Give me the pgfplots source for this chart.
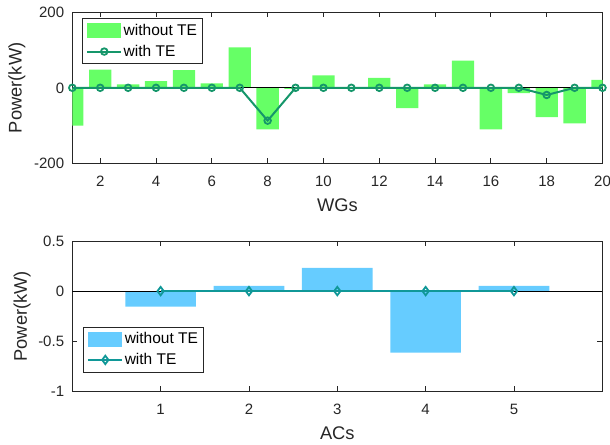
\documentclass[border=0pt]{standalone}
\usepackage{pgfplots}
\pgfplotsset{compat=1.18}
\usepackage{fontspec}
\setmainfont{Liberation Sans}
\definecolor{gbar}{HTML}{66FF66}
\definecolor{gline}{HTML}{15966A}
\definecolor{bbar}{HTML}{66CCFF}
\definecolor{bline}{HTML}{109898}
\definecolor{axgray}{HTML}{262626}
\pgfplotsset{
  mystyle/.style={
    scale only axis,
    axis line style={color=axgray, line width=0.9bp},
    tick style={color=axgray, line width=0.9bp},
    major tick length=5bp,
    tick align=inside,
    /pgf/number format/assume math mode=true,
    ticklabel style={font=\fontsize{15bp}{18bp}\selectfont, text=axgray, inner sep=0pt},
    xticklabel style={anchor=base, yshift=-23bp},
    yticklabel style={anchor=base east, xshift=-8bp, yshift=-5.4bp},
    label style={font=\fontsize{18.3bp}{21bp}\selectfont, text=axgray},
    xlabel style={at={(axis description cs:0.5,0)}, anchor=base, yshift=-48.5bp},
    legend cell align=left,
    legend style={font=\fontsize{15.5bp}{18bp}\selectfont, draw=axgray, line width=0.8bp, fill=white,
      inner xsep=4bp, inner ysep=4bp, row sep=4.5bp,
      nodes={inner sep=1.5bp, text depth=0.2em}},
  },
  barleg/.style={legend image code/.code={\fill[##1] (0bp,-7.5bp) rectangle (34bp,7.5bp);}},
  lineleg/.style={legend image code/.code={\draw[##1, mark repeat=2, mark phase=2] plot coordinates {(0bp,0bp) (17bp,0bp) (34bp,0bp)};}},
}
\begin{document}
\begin{tikzpicture}
\useasboundingbox (0,0) rectangle (610bp,445bp);
% ---------- top axis ----------
\begin{axis}[mystyle,
  at={(72.3bp,281.7bp)}, anchor=south west,
  width=530.2bp, height=151bp,
  xmin=1, xmax=20, ymin=-200, ymax=200,
  xtick={2,4,...,20}, ytick={-200,0,200},
  xlabel={WGs}, ylabel={Power(kW)},
  ylabel style={at={(axis description cs:-0.0958,0.5)}, anchor=base},
  legend style={at={(0.018,0.96)}, anchor=north west},
]
\addplot[ybar, bar width=0.8, fill=gbar, draw=none, barleg] coordinates {
(1,-100)(2,48)(3,9)(4,18)(5,47)(6,12)(7,107)(8,-110)(9,-3)(10,33)
(11,0)(12,26)(13,-54)(14,9)(15,72)(16,-110)(17,-14)(18,-78)(19,-94)(20,21)};
\addlegendentry{without TE}
\addplot[black, line width=0.8bp, forget plot] coordinates {(1,0)(20,0)};
\addplot[gline, line width=2bp, mark=o, mark size=3.3bp, mark options={line width=1.8bp}, lineleg] coordinates {
(1,0)(2,0)(3,0)(4,0)(5,0)(6,0)(7,0)(8,-87)(9,0)(10,0)
(11,0)(12,0)(13,0)(14,0)(15,0)(16,0)(17,0)(18,-19)(19,0)(20,0)};
\addlegendentry{with TE}
\end{axis}
% ---------- bottom axis ----------
\begin{axis}[mystyle,
  at={(72.3bp,53.7bp)}, anchor=south west,
  width=530bp, height=150.3bp,
  xmin=0, xmax=6, ymin=-1, ymax=0.5,
  xtick={1,2,3,4,5}, ytick={-1,-0.5,0,0.5},
  xlabel={ACs}, ylabel={Power(kW)},
  ylabel style={at={(axis description cs:-0.0855,0.5)}, anchor=base},
  legend style={at={(0.02,0.43)}, anchor=north west},
]
\addplot[ybar, bar width=0.8, fill=bbar, draw=none, barleg] coordinates {
(1,-0.154)(2,0.053)(3,0.233)(4,-0.613)(5,0.053)};
\addlegendentry{without TE}
\addplot[black, line width=0.8bp, forget plot] coordinates {(0,0)(6,0)};
\addplot[bline, line width=2bp, mark=diamond, mark size=4.2bp, mark options={line width=1.8bp}, lineleg] coordinates {
(1,0)(2,0)(3,0)(4,0)(5,0)};
\addlegendentry{with TE}
\end{axis}
\end{tikzpicture}
\end{document}
